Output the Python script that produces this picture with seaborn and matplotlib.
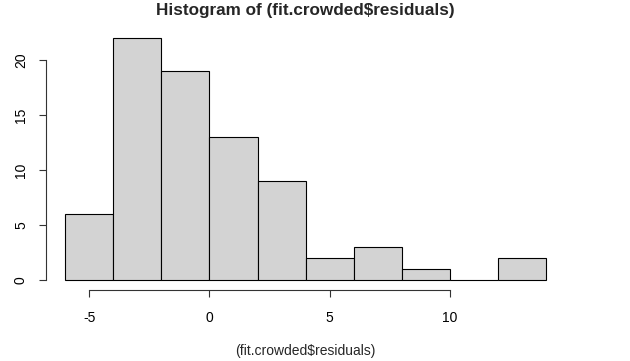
import matplotlib
matplotlib.use("Agg")
import matplotlib.pyplot as plt
import seaborn as sns
import numpy as np

bin_edges = [-6, -4, -2, 0, 2, 4, 6, 8, 10, 12, 14]
counts = [6, 22, 19, 13, 9, 2, 3, 1, 0, 2]
x_ticks = [-5, 0, 5, 10]
y_ticks = [0, 5, 10, 15, 20]
title = "Histogram of (fit.crowded$residuals)"
xlabel = "(fit.crowded$residuals)"

sns.set_style("ticks")
plt.rcParams['font.family'] = ['Liberation Sans', 'DejaVu Sans']

W, H = 630, 361
fig = plt.figure(figsize=(W / 100, H / 100), dpi=100)
xmin, xmax = -6.8, 14.8
ymin, ymax = -0.88, 22.88
left_px, right_px = 46.0, 565.2
top_px, bot_px = 28.3, 289.7
ax = fig.add_axes([left_px / W, 1 - bot_px / H, (right_px - left_px) / W, (bot_px - top_px) / H])

centers = [(bin_edges[i] + bin_edges[i + 1]) / 2 for i in range(len(counts))]
sns.histplot(x=centers, weights=counts, bins=bin_edges, ax=ax,
             color="#D3D3D3", edgecolor="black", linewidth=0.8, alpha=1.0)

ax.set_xlim(xmin, xmax)
ax.set_ylim(ymin, ymax)
ax.set_xticks(x_ticks)
ax.set_yticks(y_ticks)
ax.set_xticklabels([str(v) for v in x_ticks])
ax.set_yticklabels([str(v) for v in y_ticks], rotation=90, va="center")
for s in ["top", "right"]:
    ax.spines[s].set_visible(False)
ax.spines["left"].set_bounds(0, 20)
ax.spines["bottom"].set_bounds(-5, 10)
for s in ["left", "bottom"]:
    ax.spines[s].set_linewidth(0.8)
    ax.spines[s].set_color("#333333")
ax.tick_params(axis="both", length=5, width=0.8, color="#333333", labelsize=10, labelcolor="black")
ax.tick_params(axis="x", pad=10)
ax.tick_params(axis="y", pad=8)
ax.set_ylabel("")
ax.set_xlabel("")
ax_cx = (left_px + right_px) / 2 / W
fig.text(ax_cx, 1 - 351 / H, xlabel, ha="center", va="center", fontsize=10)
fig.text(ax_cx, 1 - 11 / H, title, ha="center", va="center", fontsize=12.3, fontweight="bold")

fig.savefig("out.png", dpi=100)
